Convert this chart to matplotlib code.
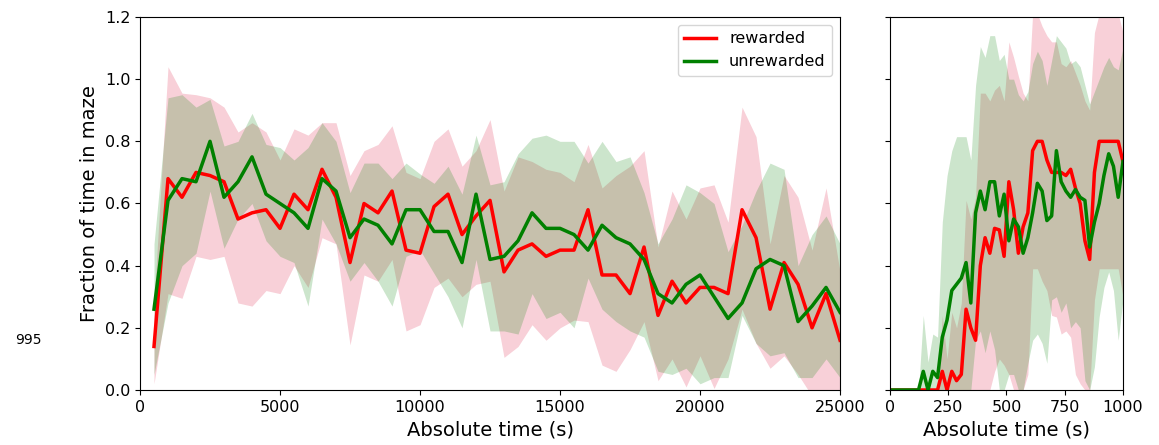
import matplotlib
matplotlib.use('Agg')
import matplotlib.pyplot as plt
import numpy as np

# ================= data: long session (absolute time, s) =================
t_long = np.arange(500, 25001, 500)

rew_mean = [0.14, 0.68, 0.62, 0.70, 0.69, 0.67, 0.55, 0.57, 0.58, 0.52, 0.63, 0.58, 0.71, 0.62, 0.41,
            0.60, 0.57, 0.64, 0.45, 0.44, 0.59, 0.63, 0.50, 0.56, 0.61,
            0.38, 0.45, 0.47, 0.43, 0.45, 0.45, 0.58, 0.37, 0.37, 0.31, 0.46, 0.24, 0.35, 0.28, 0.33,
            0.33, 0.31, 0.58, 0.49, 0.26, 0.41, 0.34, 0.20, 0.31, 0.16]
rew_upper = [0.28, 1.04, 0.955, 0.95, 0.94, 0.91, 0.83, 0.86, 0.83, 0.74, 0.84, 0.82, 0.86, 0.86, 0.69,
             0.77, 0.79, 0.85, 0.70, 0.68, 0.80, 0.84, 0.72, 0.77, 0.87,
             0.64, 0.75, 0.735, 0.71, 0.70, 0.67, 0.79, 0.65, 0.69, 0.72, 0.77, 0.46, 0.64, 0.55, 0.65,
             0.66, 0.54, 0.91, 0.815, 0.47, 0.69, 0.62, 0.45, 0.65, 0.38]
rew_lower = [0.02, 0.31, 0.295, 0.43, 0.42, 0.43, 0.28, 0.27, 0.32, 0.31, 0.40, 0.33, 0.49, 0.47, 0.145,
             0.37, 0.35, 0.42, 0.19, 0.21, 0.33, 0.36, 0.30, 0.34, 0.35,
             0.105, 0.14, 0.21, 0.16, 0.20, 0.225, 0.22, 0.08, 0.06, 0.13, 0.22, 0.03, 0.10, 0.01, 0.11,
             0.005, 0.10, 0.26, 0.15, 0.07, 0.11, 0.05, -0.02, -0.05, -0.06]

unrew_mean = [0.26, 0.61, 0.68, 0.67, 0.80, 0.62, 0.67, 0.75, 0.63, 0.60, 0.57, 0.52, 0.68, 0.64, 0.49,
              0.55, 0.53, 0.47, 0.58, 0.58, 0.51, 0.51, 0.41, 0.63, 0.42,
              0.43, 0.48, 0.57, 0.52, 0.52, 0.50, 0.45, 0.53, 0.49, 0.47, 0.42, 0.31, 0.28, 0.34, 0.37,
              0.30, 0.23, 0.28, 0.39, 0.42, 0.40, 0.22, 0.27, 0.33, 0.25]
unrew_upper = [0.47, 0.94, 0.95, 0.91, 0.935, 0.785, 0.80, 0.89, 0.79, 0.78, 0.74, 0.78, 0.86, 0.80, 0.635,
               0.73, 0.73, 0.68, 0.73, 0.695, 0.665, 0.72, 0.63, 0.82, 0.66,
               0.67, 0.76, 0.81, 0.82, 0.80, 0.80, 0.73, 0.80, 0.735, 0.75, 0.635, 0.47, 0.55, 0.66, 0.635,
               0.60, 0.445, 0.53, 0.64, 0.73, 0.71, 0.40, 0.50, 0.56, 0.47]
unrew_lower = [0.05, 0.28, 0.40, 0.44, 0.64, 0.456, 0.55, 0.60, 0.48, 0.43, 0.41, 0.27, 0.55, 0.47, 0.35,
               0.41, 0.35, 0.27, 0.43, 0.45, 0.375, 0.30, 0.20, 0.42, 0.19,
               0.19, 0.18, 0.31, 0.23, 0.25, 0.20, 0.36, 0.26, 0.22, 0.19, 0.17, 0.06, 0.05, 0.07, 0.02,
               0.04, 0.04, 0.24, 0.15, 0.11, 0.12, 0.04, 0.04, 0.10, 0.04]

# ================= data: first 1000 s =================
t_short = np.linspace(0, 1000, 50)

rew_mean_s = [0, 0, 0, 0, 0, 0, 0, 0, 0, 0, 0,
              0.06, 0.0, 0.06, 0.03, 0.05, 0.26, 0.20, 0.16, 0.40, 0.49, 0.44, 0.52, 0.515, 0.43,
              0.67, 0.58, 0.44, 0.525, 0.57, 0.77, 0.80, 0.80, 0.74, 0.70, 0.70, 0.70, 0.69, 0.71,
              0.65, 0.60, 0.48, 0.42, 0.70, 0.80, 0.80, 0.80, 0.80, 0.80, 0.735]
rew_upper_s = [0, 0, 0, 0, 0, 0, 0, 0, 0, 0, 0,
               0.24, 0.10, 0.25, 0.20, 0.28, 0.61, 0.55, 0.62, 0.955, 0.955, 0.93, 0.965, 0.98, 0.93,
               1.12, 1.07, 1.01, 0.955, 0.93, 1.21, 1.21, 1.17, 1.14, 1.12, 1.12, 1.05, 1.04, 1.06,
               1.02, 0.98, 0.93, 0.90, 1.15, 1.21, 1.21, 1.21, 1.21, 1.21, 1.15]
rew_lower_s = [0, 0, 0, 0, 0, 0, 0, 0, 0, 0, 0,
               0, 0, 0, 0, 0, 0, 0, 0, 0, 0, 0, 0.06, 0.10, 0.08,
               0.05, 0, 0, 0, 0.05, 0.39, 0.39, 0.35, 0.32, 0.24, 0.235, 0.18, 0.19, 0.17,
               0.05, 0.02, 0.0, 0.0, 0.29, 0.39, 0.39, 0.39, 0.39, 0.39, 0.30]

unrew_mean_s = [0, 0, 0, 0, 0, 0, 0,
                0.06, 0.0, 0.06, 0.04, 0.17, 0.225, 0.32, 0.34, 0.36, 0.41, 0.28, 0.57, 0.64, 0.58,
                0.67, 0.67, 0.56, 0.63, 0.48, 0.55, 0.525, 0.44, 0.49, 0.57, 0.665, 0.64, 0.545, 0.56,
                0.77, 0.67, 0.64, 0.62, 0.645, 0.62, 0.61, 0.46, 0.54, 0.60, 0.69, 0.76, 0.72, 0.62, 0.735]
unrew_upper_s = [0, 0, 0, 0, 0, 0, 0,
                 0.24, 0.09, 0.18, 0.17, 0.54, 0.69, 0.77, 0.815, 0.815, 0.815, 0.74, 0.98, 1.105, 1.07,
                 1.14, 1.14, 1.06, 1.08, 1.0, 1.0, 0.95, 0.93, 0.96, 1.05, 1.09, 1.06, 0.98, 1.06,
                 1.14, 1.12, 1.10, 1.05, 1.06, 1.04, 0.98, 0.92, 0.96, 1.0, 1.04, 1.07, 1.04, 1.03, 1.10]
unrew_lower_s = [0, 0, 0, 0, 0, 0, 0,
                 0, 0, 0, 0, 0, 0, 0, 0, 0, 0, 0, 0.16, 0.19, 0.12,
                 0.19, 0.13, 0.0, 0.0, 0.05, 0.05, 0, 0, 0.086, 0.16, 0.18, 0.15, 0.086, 0.29,
                 0.30, 0.25, 0.28, 0.20, 0.22, 0.20, 0.03, 0.0, 0.075, 0.236, 0.33, 0.38, 0.32, 0.16, 0.29]

# ================= plotting =================
fig = plt.figure(figsize=(11.59, 4.45), dpi=100)
ax1 = fig.add_axes([0.1208, 0.1236, 0.6040, 0.8382])
ax2 = fig.add_axes([0.7679, 0.1236, 0.2010, 0.8382])

for ax, t, rm, ru, rl, um, uu, ul in [
        (ax1, t_long, rew_mean, rew_upper, rew_lower, unrew_mean, unrew_upper, unrew_lower),
        (ax2, t_short, rew_mean_s, rew_upper_s, rew_lower_s, unrew_mean_s, unrew_upper_s, unrew_lower_s)]:
    ax.fill_between(t, rl, ru, color='crimson', alpha=0.2, linewidth=0)
    ax.fill_between(t, ul, uu, color='green', alpha=0.2, linewidth=0)
    ax.plot(t, rm, color='red', linewidth=2.5, label='rewarded')
    ax.plot(t, um, color='green', linewidth=2.5, label='unrewarded')
    ax.set_ylim(0, 1.2)
    ax.set_xlabel('Absolute time (s)', fontsize=14)
    ax.tick_params(labelsize=11.5)

ax1.set_xlim(0, 25000)
ax1.set_xticks(np.arange(0, 25001, 5000))
ax1.set_yticks(np.arange(0, 1.21, 0.2))
ax1.set_ylabel('Fraction of time in maze', fontsize=14)
ax1.legend(loc='upper right', fontsize=11.5)

ax2.set_xlim(0, 1000)
ax2.set_xticks(np.arange(0, 1001, 250))
ax2.set_yticks(np.arange(0, 1.21, 0.2))
ax2.set_yticklabels([])

fig.text(0.013, 0.236, '995', fontsize=10, va='center')

plt.savefig('out.png', dpi=100)
